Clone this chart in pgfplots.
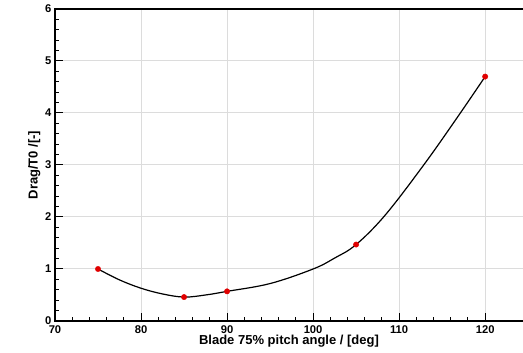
\documentclass[border=0pt]{standalone}
\usepackage{fontspec}
\setmainfont{Liberation Sans}
\newfontfamily\boldsans{Liberation Sans Bold}
\usepackage{pgfplots}
\pgfplotsset{compat=1.18}

\definecolor{gridgray}{HTML}{DCDCDC}
\definecolor{ptred}{HTML}{E00000}

\begin{document}
\begin{tikzpicture}[x=1pt,y=1pt]
\begin{axis}[
  scale only axis,
  width=468pt, height=312pt,
  xmin=70, xmax=124.4,
  ymin=0, ymax=6,
  xtick={70,80,...,120},
  ytick={0,1,...,6},
  minor x tick num=4,
  minor y tick num=4,
  xtick pos=bottom, ytick pos=left,
  tick align=inside,
  major tick length=7.5pt,
  minor tick length=4pt,
  tick style={black, line width=1pt},
  xmajorgrids, ymajorgrids,
  major grid style={gridgray, line width=1pt},
  axis line style={draw=none},
  /pgf/number format/assume math mode=true,
  ticklabel style={font=\boldsans\fontsize{11.2}{13}\selectfont},
  xticklabel style={yshift=-1pt},
  xlabel={Blade 75\% pitch angle / [deg]},
  ylabel={Drag/T0 /[-]},
  label style={font=\boldsans\fontsize{13}{15}\selectfont},
  xlabel style={yshift=5pt},
  ylabel style={yshift=-2pt},
  clip=false,
]
  % frame: left, bottom and top edges
  \draw[black, line width=1.6pt] (rel axis cs:1,1) -- (rel axis cs:0,1) -- (rel axis cs:0,0) -- (rel axis cs:1,0);
  \coordinate (bl) at (rel axis cs:0,0);
  \coordinate (tr) at (rel axis cs:1,1);
  % spline fit through the measurements
  \addplot[black, line width=1.2pt, smooth, tension=0.6, mark=none] coordinates {
    (75,1.00) (77.5,0.79) (80,0.63) (82.5,0.52) (85,0.46) (87.5,0.50)
    (90,0.57) (95,0.72) (100,1.00) (102.5,1.21) (105,1.47)
    (108.4,2.04) (112.9,3.01) (116.7,3.90) (120,4.70)
  };
  % measured points
  \addplot[only marks, mark=*, mark size=2.7pt, draw=ptred, fill=ptred] coordinates {
    (75,1.00) (85,0.46) (90,0.57) (105,1.47) (120,4.70)
  };
\end{axis}
\pgfresetboundingbox
\path ([shift={(-55pt,-32pt)}]bl) rectangle ([shift={(0pt,9pt)}]tr);
\end{tikzpicture}
\end{document}
